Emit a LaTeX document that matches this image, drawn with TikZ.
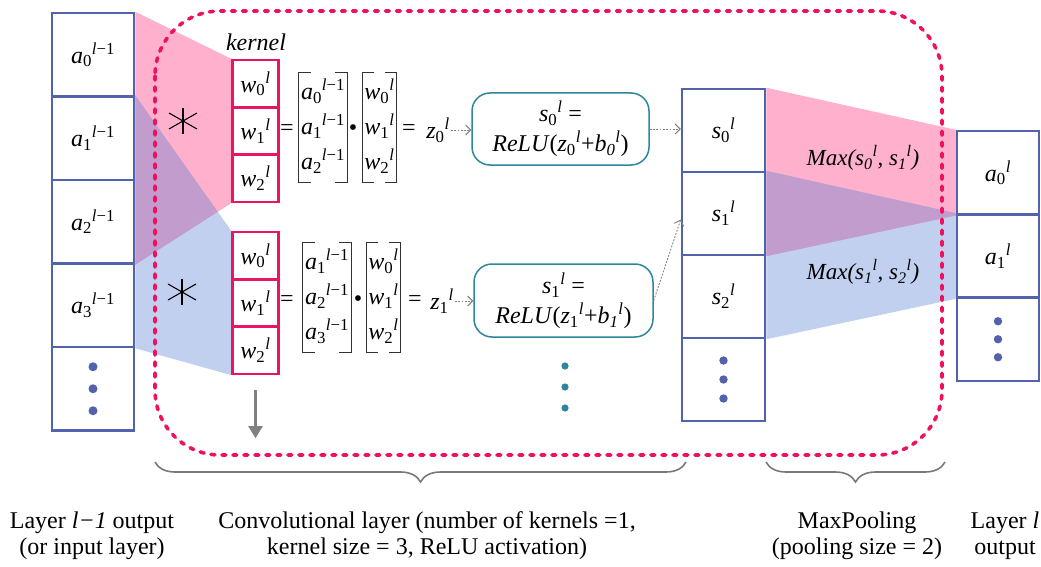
\documentclass[tikz,border=0pt]{standalone}
\usepackage{fontspec}
\setmainfont{Liberation Serif}
\usetikzlibrary{arrows.meta,decorations.pathreplacing,calc}
\pgfdeclarelayer{bg}
\pgfsetlayers{bg,main}
\definecolor{cellblue}{RGB}{82,98,172}
\definecolor{kpink}{RGB}{233,20,100}
\definecolor{fillpink}{RGB}{255,176,204}
\definecolor{fillblue}{RGB}{192,208,238}
\definecolor{fillpurple}{RGB}{194,156,204}
\definecolor{reluteal}{RGB}{46,134,156}
\definecolor{framered}{RGB}{240,16,96}
\definecolor{arrgray}{RGB}{128,128,128}
\definecolor{brgray}{RGB}{120,120,120}
\newcommand\vr[3]{\textit{#1}\textsubscript{#2}\textsuperscript{#3}}
\newcommand\il{\textit{l}}
\newcommand\ilm{\textit{l}−1}
\begin{document}
\begin{tikzpicture}[x=1pt,y=-1pt,
  cell/.style={draw=cellblue, line width=2.5pt, fill=white, minimum width=82pt, minimum height=83.5pt, inner sep=0pt, font=\fontsize{24}{28}\selectfont},
  scell/.style={cell, minimum width=83pt, minimum height=83pt},
  kcell/.style={draw=kpink, line width=2.5pt, fill=white, minimum width=46pt, minimum height=47.3pt, inner sep=0pt, font=\fontsize{24}{28}\selectfont},
  eqtxt/.style={inner sep=1pt, font=\fontsize{24}{28}\selectfont},
  mat/.style={inner sep=2pt, font=\fontsize{24}{35}\selectfont},
  brk/.style={draw=black!80, line width=1pt},
  relu/.style={draw=reluteal, line width=1.5pt, rounded corners=18pt, fill=white, align=center, inner sep=2pt, font=\fontsize{24}{30}\selectfont},
  dotarrow/.style={draw=arrgray, line width=0.9pt, dash pattern=on 1.8pt off 1.5pt, -{Straight Barb[length=5pt,width=10pt]}},
  maxlbl/.style={inner sep=1pt, font=\fontsize{23}{26}\selectfont\itshape},
  lbl/.style={align=center, inner sep=0pt, font=\fontsize{24}{26}\selectfont},
  frame/.style={draw=framered, line width=3.6pt, line cap=round, dash pattern=on 4pt off 7pt, rounded corners=65pt},
  brc/.style={draw=brgray, line width=1.6pt, decorate, decoration={brace, mirror, amplitude=20pt}},
  ast/.style={draw=black, line width=1.1pt},
  bdot/.style={fill=cellblue}
]
\useasboundingbox (0,0) rectangle (1041,567);

% input layer column
\node[cell] (a0) at (93,54.75) {\vr{a}{0}{\ilm}};
\node[cell] (a1) at (93,138.25) {\vr{a}{1}{\ilm}};
\node[cell] (a2) at (93,221.75) {\vr{a}{2}{\ilm}};
\node[cell] (a3) at (93,305.25) {\vr{a}{3}{\ilm}};
\node[cell] (a4) at (93,388.75) {};
\foreach \d in {-22,0,22} \fill[bdot] ([yshift=\d pt]a4.center) circle (4.5pt);

% kernels
\node[kcell] (k00) at (255.5,83.65) {\vr{w}{0}{\il}};
\node[kcell] (k01) at (255.5,130.95) {\vr{w}{1}{\il}};
\node[kcell] (k02) at (255.5,178.25) {\vr{w}{2}{\il}};
\node[kcell] (k10) at (255.5,255.65) {\vr{w}{0}{\il}};
\node[kcell] (k11) at (255.5,302.95) {\vr{w}{1}{\il}};
\node[kcell] (k12) at (255.5,350.25) {\vr{w}{2}{\il}};
\node[inner sep=0pt, font=\fontsize{24}{26}\selectfont\itshape] (kern) at (256,42) {kernel};

% pooled column
\node[scell] (s0) at (723.5,130.5) {\vr{s}{0}{\il}};
\node[scell] (s1) at (723.5,213.5) {\vr{s}{1}{\il}};
\node[scell] (s2) at (723.5,296.5) {\vr{s}{2}{\il}};
\node[scell] (s3) at (723.5,379.5) {};
\foreach \d in {-19,0,19} \fill[bdot] ([yshift=\d pt]s3.center) circle (4.2pt);

% output column
\node[cell, minimum height=83.3pt] (r0) at (998,172.65) {\vr{a}{0}{\il}};
\node[cell, minimum height=83.3pt] (r1) at (998,255.95) {\vr{a}{1}{\il}};
\node[cell, minimum height=83.3pt] (r2) at (998,339.25) {};
\foreach \d in {-18,0,18} \fill[bdot] ([yshift=\d pt]r2.center) circle (4.2pt);

% fills
\begin{pgfonlayer}{bg}
\fill[fillpink] (a0.north east) -- (k00.north west) -- (k02.south west) -- (a2.south east) -- cycle;
\fill[fillblue] (a1.north east) -- (k10.north west) -- (k12.south west) -- (a3.south east) -- cycle;
\begin{scope}
\clip (a0.north east) -- (k00.north west) -- (k02.south west) -- (a2.south east) -- cycle;
\fill[fillpurple] (a1.north east) -- (k10.north west) -- (k12.south west) -- (a3.south east) -- cycle;
\end{scope}
\fill[fillpink] (s0.north east) -- (r0.north west) -- (r0.south west) -- (s1.south east) -- cycle;
\fill[fillblue] (s1.north east) -- (r1.north west) -- (r1.south west) -- (s2.south east) -- cycle;
\begin{scope}
\clip (s0.north east) -- (r0.north west) -- (r0.south west) -- (s1.south east) -- cycle;
\fill[fillpurple] (s1.north east) -- (r1.north west) -- (r1.south west) -- (s2.south east) -- cycle;
\end{scope}
\end{pgfonlayer}

% asterisks
\coordinate (ast0) at (183,121);
\coordinate (ast1) at (182,292);
\foreach \c in {ast0,ast1} {
  \draw[ast] ([shift={(0,-13)}]\c) -- ([shift={(0,13)}]\c);
  \draw[ast] ([shift={(-14,-8)}]\c) -- ([shift={(14,8)}]\c);
  \draw[ast] ([shift={(-14,8)}]\c) -- ([shift={(14,-8)}]\c);
}

% equation row 0
\node[eqtxt] (e00) at (287,130) {=};
\node[mat] (m00) at (323,127.5) {\begin{tabular}{@{}l@{}}\vr{a}{0}{\ilm}\\\vr{a}{1}{\ilm}\\\vr{a}{2}{\ilm}\end{tabular}};
\node[eqtxt] (dot0) at (353,130) {•};
\node[mat] (m01) at (379.5,127.5) {\begin{tabular}{@{}l@{}}\vr{w}{0}{\il}\\\vr{w}{1}{\il}\\\vr{w}{2}{\il}\end{tabular}};
\node[eqtxt] (e01) at (409,130) {=};
\node[eqtxt] (z0) at (438,130) {\vr{z}{0}{\il}};

% equation row 1
\node[eqtxt] (e10) at (287,301) {=};
\node[mat] (m10) at (327,297.5) {\begin{tabular}{@{}l@{}}\vr{a}{1}{\ilm}\\\vr{a}{2}{\ilm}\\\vr{a}{3}{\ilm}\end{tabular}};
\node[eqtxt] (dot1) at (358,301) {•};
\node[mat] (m11) at (383.5,297.5) {\begin{tabular}{@{}l@{}}\vr{w}{0}{\il}\\\vr{w}{1}{\il}\\\vr{w}{2}{\il}\end{tabular}};
\node[eqtxt] (e11) at (415,301) {=};
\node[eqtxt] (z1) at (442,301) {\vr{z}{1}{\il}};

\foreach \m in {m00,m01,m10,m11} {
  \draw[brk] ([xshift=12pt]\m.north west) -- (\m.north west) -- (\m.south west) -- ([xshift=12pt]\m.south west);
  \draw[brk] ([xshift=-12pt]\m.north east) -- (\m.north east) -- (\m.south east) -- ([xshift=-12pt]\m.south east);
}

% ReLU boxes
\node[relu, minimum width=177pt, minimum height=72pt] (relu0) at (560.5,129) {\vr{s}{0}{\il} =\\\textit{ReLU}(\vr{z}{0}{\il}+\vr{b}{\textit{0}}{\il})};
\node[relu, minimum width=179pt, minimum height=73pt] (relu1) at (563.5,300.5) {\vr{s}{1}{\il} =\\\textit{ReLU}(\vr{z}{1}{\il}+\vr{b}{\textit{1}}{\il})};
\coordinate (vd) at (565,387);
\foreach \d in {-21,0,21} \fill[reluteal] ([yshift=\d pt]vd) circle (3.6pt);

% arrows
\draw[dotarrow] (z0.east) -- (z0.east -| relu0.west);
\draw[dotarrow] (z1.east) -- (z1.east -| relu1.west);
\draw[dotarrow] (relu0.east) -- (relu0.east -| s0.west);
\draw[dotarrow] (relu1.east) -- ([yshift=-6pt]s1.west);
\draw[draw=arrgray, line width=2.5pt, -{Triangle[length=12pt,width=14pt]}] ([yshift=-15pt]k12.south) -- ([yshift=-63pt]k12.south);

% max labels
\node[maxlbl] (mx0) at (863,158) {Max(\vr{s}{0}{\il}, \vr{s}{1}{\il})};
\node[maxlbl] (mx1) at (863,272) {Max(\vr{s}{1}{\il}, \vr{s}{2}{\il})};

% frame
\draw[frame] (155,11) rectangle (942,455);

% braces
\coordinate (b0a) at (155,462);
\coordinate (b0b) at (686,462);
\coordinate (b1a) at (766,462);
\coordinate (b1b) at (945,462);
\draw[brc] (b0a) -- (b0b);
\draw[brc] (b1a) -- (b1b);

% bottom labels
\node[lbl] (l1) at (92,536) {Layer \textit{l−1} output\\(or input layer)};
\node[lbl] (l2) at (427,536) {Convolutional layer (number of kernels =1,\\kernel size = 3, ReLU activation)};
\node[lbl] (l3) at (857,536) {MaxPooling\\(pooling size = 2)};
\node[lbl] (l4) at (1005,536) {Layer \textit{l}\\output};
\end{tikzpicture}
\end{document}
